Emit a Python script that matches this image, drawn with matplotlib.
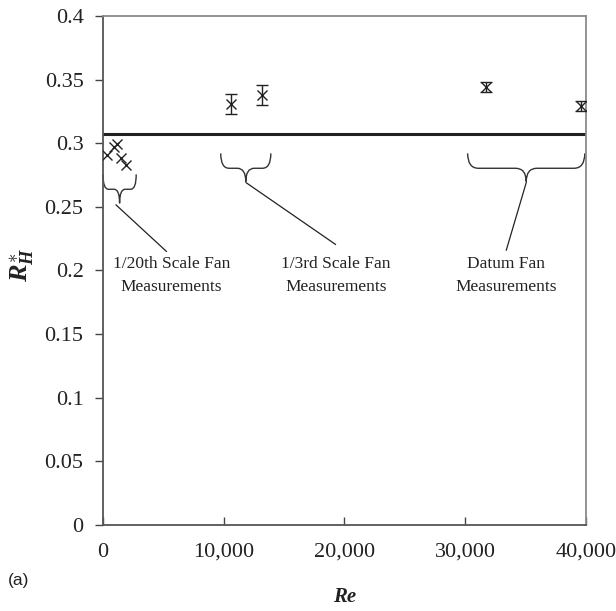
import matplotlib
matplotlib.use("Agg")
import matplotlib.pyplot as plt
from matplotlib.path import Path
from matplotlib.patches import PathPatch
from matplotlib.ticker import FuncFormatter, MultipleLocator

# Measured values
re_small = [350, 900, 1150, 1500, 1900]
rh_small = [0.291, 0.297, 0.299, 0.288, 0.283]

re_third = [10600, 13200]
rh_third = [0.331, 0.338]
err_third = [0.0079, 0.0079]

re_datum = [31700, 39600]
rh_datum = [0.344, 0.329]
err_datum = [0.004, 0.004]

rh_mean = 0.307

group_labels = ["1/20th Scale Fan\nMeasurements",
                "1/3rd Scale Fan\nMeasurements",
                "Datum Fan\nMeasurements"]

serif = ["Liberation Serif", "DejaVu Serif"]
plt.rcParams["font.family"] = serif
plt.rcParams["mathtext.fontset"] = "custom"
plt.rcParams["mathtext.it"] = "Liberation Serif:italic:bold"
plt.rcParams["mathtext.rm"] = "Liberation Serif:bold"
plt.rcParams["mathtext.bf"] = "Liberation Serif:bold"

fig = plt.figure(figsize=(6.16, 6.11), dpi=100)
ax = fig.add_axes([0.1672, 0.1408, 0.7841, 0.8331])

ax.set_xlim(0, 40000)
ax.set_ylim(0, 0.4)

# Mean line
ax.axhline(rh_mean, color="#222222", lw=2.2, zorder=2)

# Data points
ax.plot(re_small, rh_small, ls="none", marker="x", ms=7.5, mew=1.0,
        color="#222222", zorder=3)
ax.errorbar(re_third, rh_third, yerr=err_third, fmt="x", ms=7, mew=1.0,
            color="#222222", ecolor="#222222", elinewidth=1.0,
            capsize=4, capthick=1.0, zorder=3)
ax.errorbar(re_datum, rh_datum, yerr=err_datum, fmt="x", ms=7, mew=1.0,
            color="#222222", ecolor="#222222", elinewidth=1.0,
            capsize=4, capthick=1.0, zorder=3)


def underbrace(ax, x0, x1, ytop, ybot, ytip, dx):
    xm = 0.5 * (x0 + x1)
    verts = [
        (x0, ytop), (x0, ybot), (x0 + dx, ybot),
        (xm - dx, ybot),
        (xm, ybot), (xm, ytip),
        (xm, ybot), (xm + dx, ybot),
        (x1 - dx, ybot),
        (x1, ybot), (x1, ytop),
    ]
    codes = [Path.MOVETO, Path.CURVE3, Path.CURVE3,
             Path.LINETO,
             Path.CURVE3, Path.CURVE3,
             Path.CURVE3, Path.CURVE3,
             Path.LINETO,
             Path.CURVE3, Path.CURVE3]
    ax.add_patch(PathPatch(Path(verts, codes), fill=False,
                           edgecolor="#333333", lw=1.0, zorder=2,
                           clip_on=False))


underbrace(ax, 0, 2750, 0.2755, 0.2638, 0.2528, 450)
underbrace(ax, 9750, 13900, 0.292, 0.2803, 0.2698, 700)
underbrace(ax, 30200, 39900, 0.292, 0.2803, 0.2698, 900)

# Leader lines and group labels
leaders = [((1080, 0.2515), (5250, 0.2150)),
           ((11850, 0.2690), (19250, 0.2205)),
           ((35050, 0.2690), (33400, 0.2160))]
label_pos = [(5650, 0.1960), (19300, 0.1960), (33400, 0.1960)]
for (p0, p1), (tx, ty), lab in zip(leaders, label_pos, group_labels):
    ax.plot([p0[0], p1[0]], [p0[1], p1[1]], color="#222222", lw=0.9, zorder=2)
    ax.text(tx, ty, lab, ha="center", va="center", fontsize=12.5,
            color="#222222", linespacing=1.6)

# Axes styling
for side in ("left", "bottom"):
    ax.spines[side].set_color("#555555")
    ax.spines[side].set_linewidth(1.3)
for side in ("top", "right"):
    ax.spines[side].set_color("#8a8a8a")
    ax.spines[side].set_linewidth(1.3)

ax.xaxis.set_major_locator(MultipleLocator(10000))
ax.yaxis.set_major_locator(MultipleLocator(0.05))
ax.xaxis.set_major_formatter(FuncFormatter(lambda v, p: f"{int(round(v)):,}"))
ax.yaxis.set_major_formatter(FuncFormatter(lambda v, p: f"{round(v, 2):g}"))
ax.tick_params(axis="x", direction="in", length=6, width=1.0,
               colors="#444444", labelcolor="#222222", labelsize=16, pad=13)
ax.tick_params(axis="y", direction="out", length=6, width=1.0,
               colors="#444444", labelcolor="#222222", labelsize=16, pad=8)

ax.set_xlabel("Re", fontsize=15, fontweight="bold", fontstyle="italic",
              labelpad=18, color="#222222")
fig.text(0.036, 0.566, r"$R_H^{\ast}$", rotation=90, ha="center",
         va="center", fontsize=19, color="#222222")

fig.text(0.013, 0.042, "(a)", fontsize=12.5, color="#222222",
         family=["Liberation Sans", "DejaVu Sans"])

fig.savefig("out.png", dpi=100)
